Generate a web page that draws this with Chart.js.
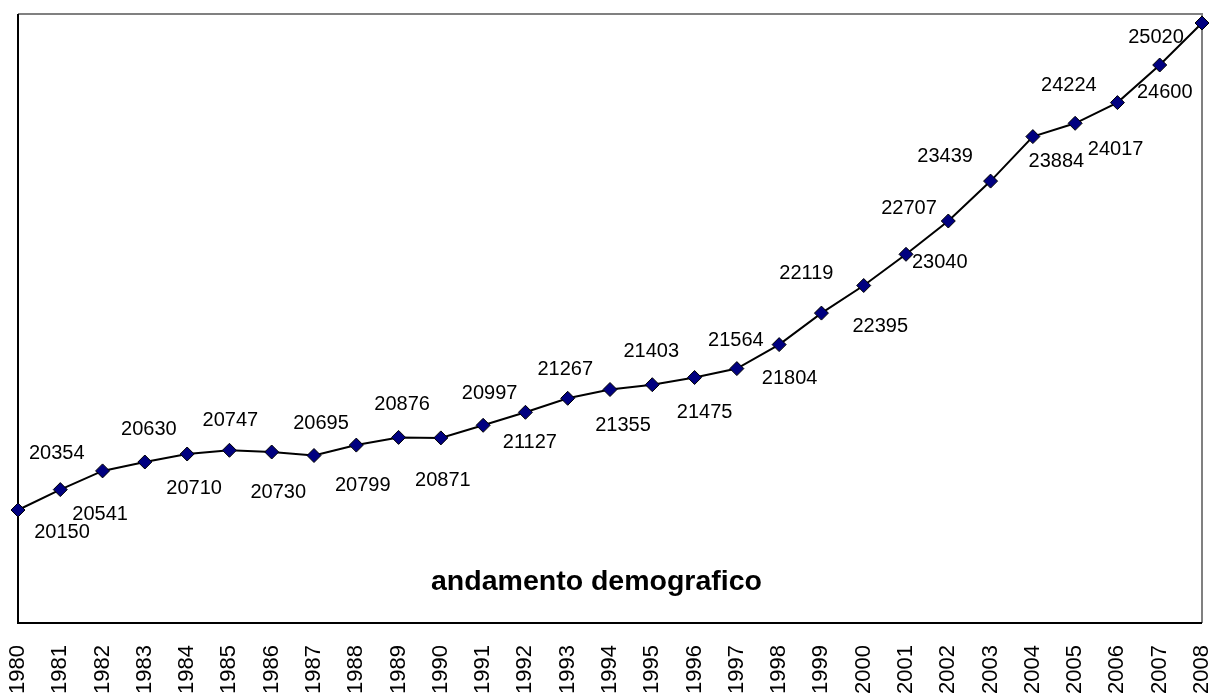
<!DOCTYPE html>
<html>
<head>
<meta charset="utf-8">
<title>andamento demografico</title>
<script src="https://cdn.jsdelivr.net/npm/chart.js@4.4.1/dist/chart.umd.min.js"></script>
<style>
  html, body { margin: 0; padding: 0; background: #fff; }
  #wrap { width: 1214px; height: 693px; position: relative; }
</style>
</head>
<body>
<div id="wrap"><canvas id="myChart"></canvas></div>
<script>
// years on the category axis
const years = ['1980','1981','1982','1983','1984','1985','1986','1987','1988','1989',
  '1990','1991','1992','1993','1994','1995','1996','1997','1998','1999',
  '2000','2001','2002','2003','2004','2005','2006','2007','2008'];

// population values
const population = [20150, 20354, 20541, 20630, 20710, 20747, 20730, 20695, 20799, 20876,
  20871, 20997, 21127, 21267, 21355, 21403, 21475, 21564, 21804, 22119,
  22395, 22707, 23040, 23439, 23884, 24017, 24224, 24600, 25020];

const chartTitle = 'andamento demografico';

// where each value label sits relative to its point (px)
const labelDx = [44, -3.5, -2.5, 4, 7, 1, 6.5, 7, 6.5, 3.5, 2, 6.5, 4.5, -2.5, 13, -1, 10, -1, 10.5, -15,
  16.5, 3, -8.5, -45.5, 23.5, 40.5, -48.5, 5, -46];
const labelDy = [21, -38, 42, -34, 33, -31, 39, -34, 38.5, -34, 41, -33, 29, -30.5, 34, -35, 33, -30, 32, -41.5,
  39, -47.5, 39.5, -26.5, 23.5, 25, -19, 26, 12.5];

const FONT = '"Liberation Sans", Arial, sans-serif';

// plot frame: black axes on left/bottom, grey edges top/right
const framePlugin = {
  id: 'frame',
  beforeDatasetsDraw(chart) {
    const a = chart.chartArea;
    const ctx = chart.ctx;
    ctx.save();
    ctx.lineWidth = 2;
    ctx.strokeStyle = '#808080';
    ctx.beginPath();
    ctx.moveTo(a.left, a.top);
    ctx.lineTo(a.right, a.top);
    ctx.lineTo(a.right, a.bottom);
    ctx.stroke();
    ctx.strokeStyle = '#000';
    ctx.beginPath();
    ctx.moveTo(a.left, a.top);
    ctx.lineTo(a.left, a.bottom);
    ctx.lineTo(a.right, a.bottom);
    ctx.stroke();
    // title inside the plot
    ctx.fillStyle = '#000';
    ctx.font = 'bold 28.5px ' + FONT;
    ctx.textAlign = 'center';
    ctx.textBaseline = 'alphabetic';
    ctx.fillText(chartTitle, (a.left + a.right) / 2 - 13.5, a.bottom - 33);
    ctx.restore();
  }
};

// value labels next to the markers
const valueLabels = {
  id: 'valueLabels',
  afterDatasetsDraw(chart) {
    const ctx = chart.ctx;
    const meta = chart.getDatasetMeta(0);
    ctx.save();
    ctx.fillStyle = '#000';
    ctx.font = '20px ' + FONT;
    ctx.textAlign = 'center';
    ctx.textBaseline = 'alphabetic';
    meta.data.forEach(function(pt, i) {
      ctx.fillText(String(population[i]), pt.x + labelDx[i], pt.y + labelDy[i] + 7);
    });
    ctx.restore();
  }
};

new Chart(document.getElementById('myChart'), {
  type: 'line',
  data: {
    labels: years,
    datasets: [{
      label: chartTitle,
      data: population,
      borderColor: '#000',
      borderWidth: 2,
      tension: 0,
      pointStyle: 'rectRot',
      pointRadius: 7,
      pointHoverRadius: 7,
      pointBackgroundColor: '#000080',
      pointBorderColor: '#000',
      pointBorderWidth: 1,
      clip: false
    }]
  },
  options: {
    responsive: true,
    maintainAspectRatio: false,
    animation: false,
    events: [],
    layout: { padding: { left: 18, top: 14, right: 12, bottom: 0 } },
    plugins: {
      legend: { display: false },
      tooltip: { enabled: false },
      title: { display: false }
    },
    scales: {
      x: {
        offset: false,
        grid: { display: false, drawTicks: false },
        border: { display: false },
        ticks: {
          autoSkip: false,
          maxRotation: 90,
          minRotation: 90,
          padding: 22,
          color: '#000',
          font: { family: FONT, size: 22 }
        },
        afterFit(scale) {
          // keep the plot area as wide and tall as in the original
          scale.paddingLeft = 0;
          scale.paddingRight = 0;
          scale.height = 70;
        }
      },
      y: {
        display: false,
        min: 19020,
        max: 25110
      }
    }
  },
  plugins: [framePlugin, valueLabels]
});
</script>
</body>
</html>
